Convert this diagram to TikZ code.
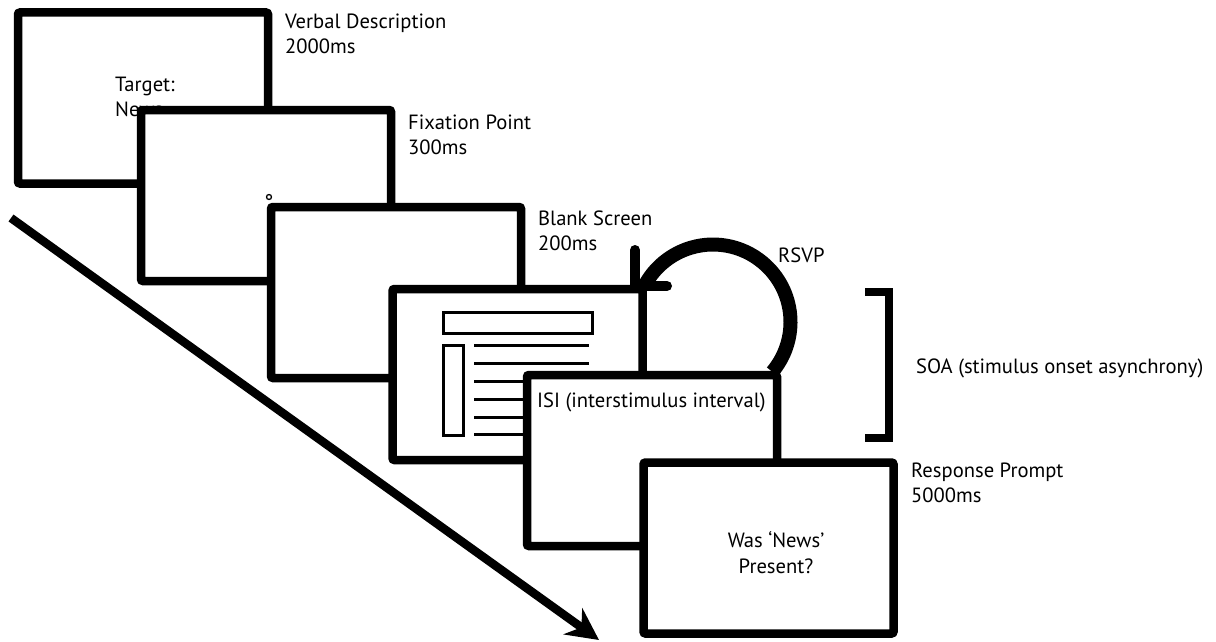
\documentclass[tikz,border=0pt]{standalone}
\usepackage{fontspec}
\setmainfont{PT Sans}
\usetikzlibrary{arrows.meta}
\tikzset{
  screen/.style={draw=black, fill=white, line width=8.5pt, rounded corners=2pt,
    minimum width=250pt, minimum height=171pt, inner sep=0pt},
  lbl/.style={anchor=base west, inner sep=0pt, font=\fontsize{20.6}{25}\selectfont},
  ctr/.style={anchor=base, inner sep=0pt, font=\fontsize{20.6}{25}\selectfont},
  icon/.style={draw=black, line width=3pt},
}
\begin{document}
\begin{tikzpicture}[x=1pt,y=1pt]
\fill[white] (0,0) rectangle (1216,-642);
\useasboundingbox (0,0) rectangle (1216,-642);

% diagonal time arrow
\coordinate (t0) at (11,-218);
\coordinate (t1) at (599,-640);
\draw[line width=8.5pt, -{Stealth[length=32pt, width=32pt]}] (t0) -- (t1);

% screen 1
\node[screen] (b1) at (143,-98) {};
\node[lbl] (tgt) at (115,-92) {Target:};
\node[lbl] (tnews) at (115,-117) {News};
\node[lbl] (l1a) at (285,-29) {Verbal Description};
\node[lbl] (l1b) at (285,-54) {2000ms};

% screen 2
\node[screen] (b2) at (266,-195.5) {};
\node[draw=black, line width=1.3pt, circle, minimum size=5pt, inner sep=0pt] (fix) at (269,-197) {};
\node[lbl] (l2a) at (408,-129) {Fixation Point};
\node[lbl] (l2b) at (408,-154) {300ms};

% screen 3
\node[screen] (b3) at (396,-292.5) {};
\node[lbl] (l3a) at (538,-225) {Blank Screen};
\node[lbl] (l3b) at (538,-250) {200ms};

% screen 4 with news icon
\node[screen] (b4) at (517.5,-374.5) {};
\node[icon, minimum width=149pt, minimum height=21pt, inner sep=0pt] (hdr) at (517.5,-322.5) {};
\node[icon, minimum width=20pt, minimum height=90pt, inner sep=0pt] (col) at (453,-390) {};
\foreach \yy in {345,363,381,399,417,434}{
  \coordinate (la) at (474,-\yy);
  \coordinate (lb) at (589,-\yy);
  \draw[icon] (la) -- (lb);
}

% screen 5
\node[screen] (b5) at (652,-460.5) {};
\node[lbl] (isi) at (537,-407) {ISI (interstimulus interval)};

% screen 6
\node[screen] (b6) at (768.5,-548) {};
\node[ctr] (qa) at (776,-547) {Was `News'};
\node[ctr] (qb) at (776,-573) {Present?};
\node[lbl] (l6a) at (911,-477) {Response Prompt};
\node[lbl] (l6b) at (911,-502) {5000ms};

% RSVP loop arrow
\coordinate (rc) at (713,-322);
\draw[line width=14pt] ([shift={(-40:77.5)}]rc) arc[start angle=-40, end angle=152, radius=77.5];
\coordinate (ra) at (635,-250);
\coordinate (rt) at (635,-286);
\coordinate (rb) at (667,-286);
\draw[line width=10pt, line cap=round, line join=round] (ra) -- (rt) -- (rb);
\node[lbl] (rsvp) at (778,-262) {RSVP};

% SOA bracket
\coordinate (s0) at (865,-292);
\coordinate (s1) at (889,-292);
\coordinate (s2) at (889,-438);
\coordinate (s3) at (865,-438);
\draw[line width=8pt] (s0) -- (s1) -- (s2) -- (s3);
\node[lbl] (soa) at (916,-373) {SOA (stimulus onset asynchrony)};
\end{tikzpicture}
\end{document}
